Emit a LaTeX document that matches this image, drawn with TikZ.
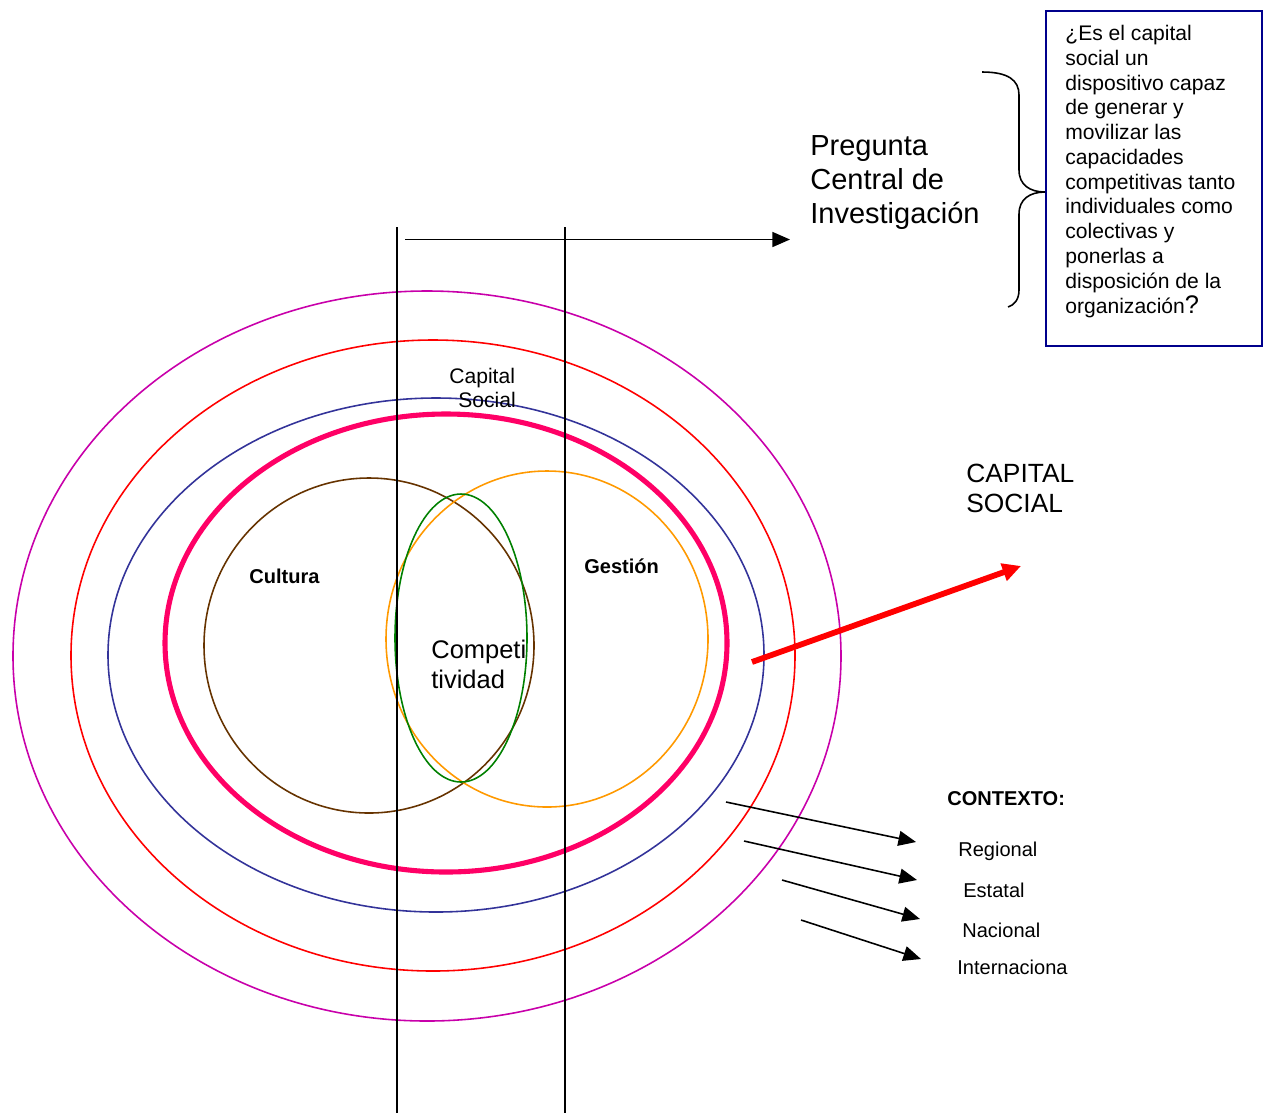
\documentclass[tikz,border=0pt]{standalone}
\usepackage{fontspec}
\setmainfont{Liberation Sans}
\usetikzlibrary{arrows.meta}

\definecolor{ringmagenta}{RGB}{200,0,170}
\definecolor{ringred}{RGB}{255,0,0}
\definecolor{ringnavy}{RGB}{51,51,153}
\definecolor{ringpink}{RGB}{255,0,102}
\definecolor{culturebrown}{RGB}{102,51,0}
\definecolor{gestionorange}{RGB}{255,153,0}
\definecolor{compgreen}{RGB}{0,128,0}
\definecolor{boxnavy}{RGB}{0,0,140}

\begin{document}
\begin{tikzpicture}[x=0.02cm,y=-0.02cm,
  ring/.style={line width=0.9pt},
  % multi-line texts are placed by the baseline of their last line
  txt/.style={inner sep=0pt, anchor=base west, align=left},
  blackarrow/.style={-{Triangle[length=10pt,width=8.5pt]}, line width=0.9pt},
  redarrow/.style={-{Triangle[length=10.5pt,width=10pt]}, line width=3.3pt, draw=ringred},
  bigfont/.style={font=\fontsize{16.5}{19.3}\selectfont},
  smallbold/.style={font=\fontsize{11.4}{13.6}\selectfont\bfseries},
  smallfont/.style={font=\fontsize{11.4}{13.6}\selectfont}]

\useasboundingbox (0,0) rectangle (1266,1113);

% context rings
\draw[ring, draw=ringmagenta] (427,656) ellipse [x radius=414, y radius=365];
\draw[ring, draw=ringred]     (433,655.5) ellipse [x radius=362, y radius=315.5];
\draw[ring, draw=ringnavy]    (436,655) ellipse [x radius=328, y radius=257];
\draw[line width=2.9pt, draw=ringpink] (446,643) ellipse [x radius=281, y radius=229];

% culture, management and competitiveness
\draw[ring, draw=culturebrown]  (369,645.5) ellipse [x radius=165, y radius=167.5];
\draw[ring, draw=gestionorange] (547,639) ellipse [x radius=161, y radius=168];
\draw[ring, draw=compgreen]     (461,638) ellipse [x radius=66, y radius=144];

% vertical guide lines
\coordinate (v1top) at (397,227);
\coordinate (v1bot) at (397,1113);
\coordinate (v2top) at (565,227);
\coordinate (v2bot) at (565,1113);
\draw[line width=0.9pt] (v1top) -- (v1bot);
\draw[line width=0.9pt] (v2top) -- (v2bot);

% question heading
\node[txt, bigfont] (preg) at (810,223) {Pregunta\\Central de\\Investigación};
\coordinate (hstart) at (405,239.5);
\coordinate (hend) at (790,239.5);
\draw[blackarrow] (hstart) -- (hend);

% question box
\node[draw=boxnavy, line width=1.2pt, inner sep=0pt, anchor=north west,
      minimum width=216*0.02cm, minimum height=335*0.02cm] (qbox) at (1045,10) {};
\node[txt, font=\fontsize{12}{14.1}\selectfont] (qtext) at (1065,313)
  {¿Es el capital\\social un\\dispositivo capaz\\de generar y\\movilizar las\\capacidades\\competitivas tanto\\individuales como\\colectivas y\\ponerlas a\\disposición de la\\organización{\fontsize{14.5}{14}\selectfont ?}};

% brace
\coordinate (btop) at (982,72);
\coordinate (bbot) at (1008,307);
\draw[line width=0.9pt] (btop) .. controls (1008,72) and (1019,80) .. (1019,95)
  -- (1019,170) .. controls (1019,185) and (1030,192) .. (qbox.west |- 0,192)
  .. controls (1030,192) and (1019,199) .. (1019,214)
  -- (1019,290) .. controls (1019,300) and (1014,305) .. (bbot);

% labels inside the rings
\node[txt, font=\fontsize{12}{13.6}\selectfont] (capsoc) at (449,407) {Capital\\\hspace*{0.18cm}Social};
\node[txt, smallbold] (cultura) at (249,583) {Cultura};
\node[txt, smallbold] (gestion) at (584,573) {Gestión};
\node[txt, font=\fontsize{14.5}{17}\selectfont] (compet) at (431,688) {Competi\\tividad};

% social capital arrow
\node[txt, font=\fontsize{15}{17}\selectfont] (capital) at (966,512) {CAPITAL\\SOCIAL};
\coordinate (rstart) at (752,662);
\coordinate (rend) at (1021,566);
\draw[redarrow] (rstart) -- (rend);

% context levels
\node[txt, smallbold] (contexto) at (947,805) {CONTEXTO:};
\node[txt, smallfont] (regional) at (958,856) {Regional};
\node[txt, smallfont] (estatal) at (963,897) {Estatal};
\node[txt, smallfont] (nacional) at (962,937) {Nacional};
\node[txt, smallfont] (internac) at (957,974) {Internaciona};

\coordinate (a1) at (726,802);
\coordinate (b1) at (916,842);
\coordinate (a2) at (744,841);
\coordinate (b2) at (917,880);
\coordinate (a3) at (782,880);
\coordinate (b3) at (920,919);
\coordinate (a4) at (801,920);
\coordinate (b4) at (921,959);
\draw[blackarrow] (a1) -- (b1);
\draw[blackarrow] (a2) -- (b2);
\draw[blackarrow] (a3) -- (b3);
\draw[blackarrow] (a4) -- (b4);
\end{tikzpicture}
\end{document}
